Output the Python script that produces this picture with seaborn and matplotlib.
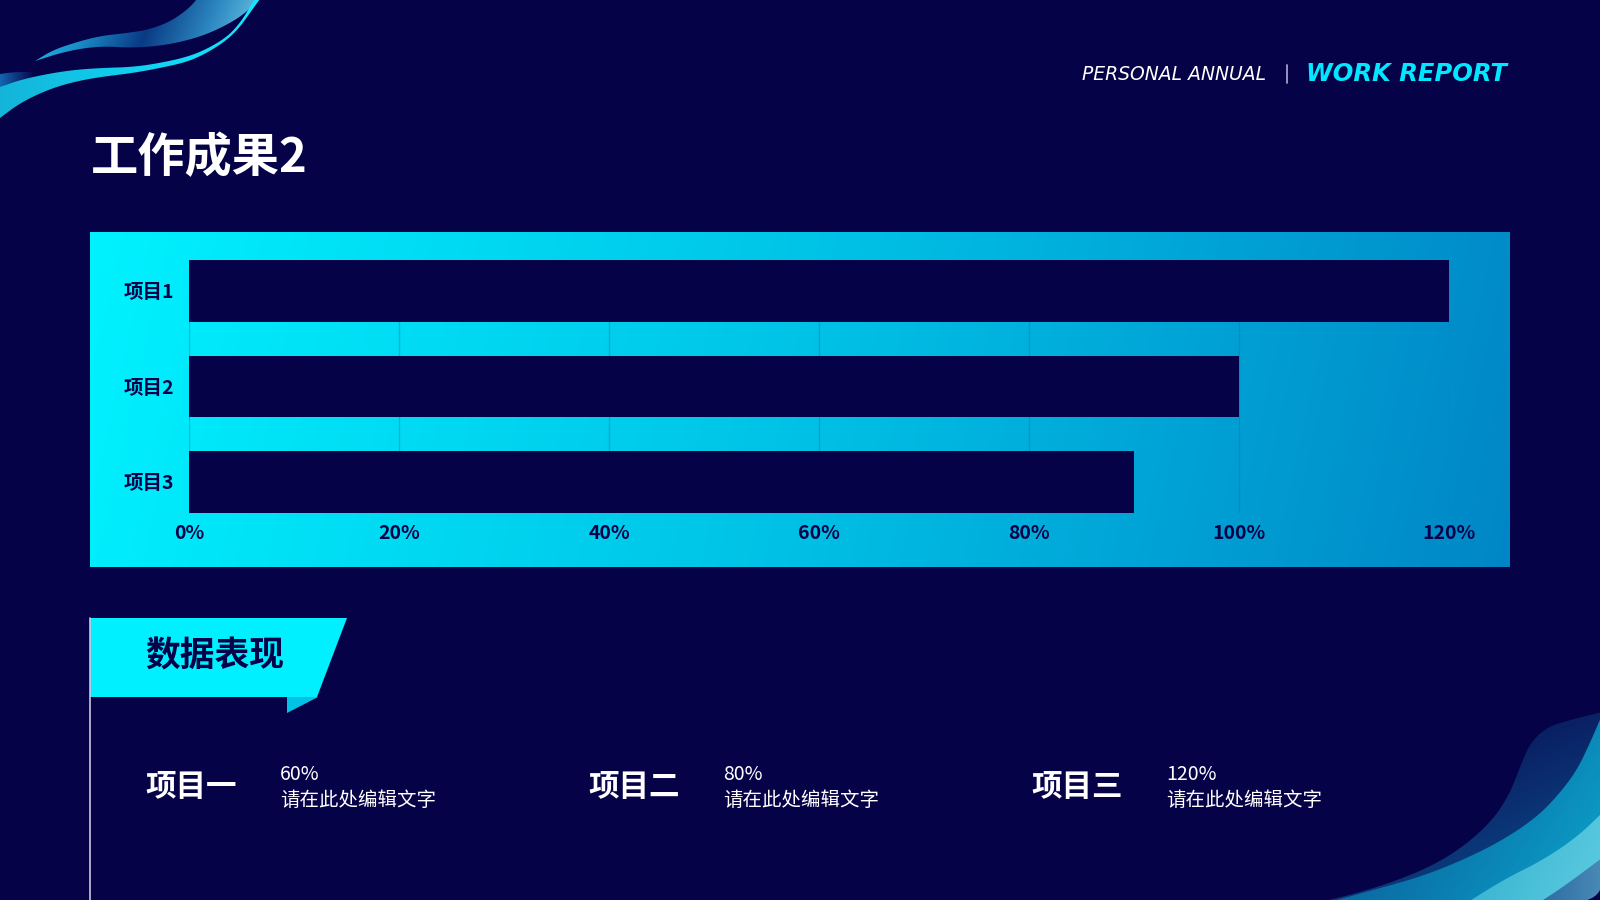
import numpy as np
import pandas as pd
import seaborn as sns
import matplotlib.pyplot as plt
from matplotlib.patches import Polygon
from matplotlib.colors import to_rgb

# Chart data
categories = ['项目1', '项目2', '项目3']
values = [1.2, 1.0, 0.9]
tick_values = [0, 0.2, 0.4, 0.6, 0.8, 1.0, 1.2]
tick_labels = ['0%', '20%', '40%', '60%', '80%', '100%', '120%']

# Summary items under the chart
item_names = ['项目一', '项目二', '项目三']
item_pcts = ['60%', '80%', '120%']
item_desc = ['请在此处编辑文字', '请在此处编辑文字', '请在此处编辑文字']

NAVY = '#060248'
CYAN = '#00F0FF'

sns.set_style('white')
plt.rcParams['font.family'] = ['Noto Sans CJK SC', 'DejaVu Sans']

W, H = 1600, 900
fig = plt.figure(figsize=(16, 9), dpi=100, facecolor=NAVY)

# background layer in pixel coordinates
bg = fig.add_axes([0, 0, 1, 1])
bg.set_facecolor(NAVY)
bg.axis('off')


def gradient(stops, nx=300, ny=150, tilt=0.0):
    # stops: list of colours spread evenly along the gradient
    xs = np.linspace(0, 1, nx)[None, :]
    ys = np.linspace(0, 1, ny)[:, None]
    t = np.clip((1 - tilt) * xs + tilt * ys, 0, 1)
    cols = np.array([to_rgb(c) for c in stops])
    pos = np.linspace(0, 1, len(stops))
    img = np.stack([np.interp(t, pos, cols[:, k]) for k in range(3)], axis=-1)
    return img


def smooth(pts, n=3):
    # chaikin corner cutting, endpoints kept
    pts = np.array(pts, dtype=float)
    for _ in range(n):
        q = 0.75 * pts[:-1] + 0.25 * pts[1:]
        r = 0.25 * pts[:-1] + 0.75 * pts[1:]
        mid = np.empty((2 * len(q), 2))
        mid[0::2] = q
        mid[1::2] = r
        pts = np.vstack([pts[:1], mid, pts[-1:]])
    return pts


def ribbon(edge_a, edge_b, stops, zorder=2, tilt=0.0):
    verts = np.vstack([smooth(edge_a), smooth(edge_b)[::-1]])
    x0, y0 = verts.min(axis=0)
    x1, y1 = verts.max(axis=0)
    patch = Polygon(verts, closed=True, fill=False, lw=0)
    bg.add_patch(patch)
    im = bg.imshow(gradient(stops, tilt=tilt), extent=(x0, x1, y1, y0),
                   aspect='auto', zorder=zorder, interpolation='bilinear')
    im.set_clip_path(patch)


# top-left swooshes
ribbon([(35, 61), (53, 50), (77, 42), (100, 36), (127, 33), (147, 30), (167, 23),
        (180, 15), (190, 7), (197, -1)],
       [(35, 61), (67, 51), (100, 46), (133, 48), (167, 45), (200, 37), (227, 25),
        (247, 12), (258, -1)],
       ['#22C4E8', '#1A8CC8', '#0A3A84', '#2C88C0', '#78D4EC'], tilt=0.1)
ribbon([(0, 74), (15, 72), (35, 72)], [(0, 88), (15, 84), (35, 77)],
       ['#1466B0', NAVY])
ribbon([(0, 87), (20, 80), (47, 74), (73, 70), (100, 68), (133, 67), (160, 63),
        (187, 57), (207, 49), (227, 37), (240, 23), (250, 7), (255, -1)],
       [(0, 118), (20, 103), (47, 90), (73, 82), (100, 77), (133, 73), (160, 68),
        (187, 62), (207, 53), (227, 40), (240, 27), (252, 10), (260, -1)],
       ['#14B4D8', '#10D0F0', '#14E8FF'])

# bottom-right swooshes
ribbon([(1602, 712), (1570, 720), (1547, 727), (1530, 743), (1520, 767), (1510, 793),
        (1493, 820), (1463, 847), (1430, 867), (1390, 883), (1350, 895), (1320, 902)],
       [(1602, 712), (1602, 902), (1320, 902)],
       [NAVY, '#0A2A6C', '#0B5494'], tilt=0.6)
ribbon([(1602, 715), (1590, 743), (1577, 770), (1560, 793), (1537, 817), (1503, 840),
        (1463, 860), (1420, 877), (1373, 890), (1330, 902)],
       [(1602, 715), (1602, 902), (1330, 902)],
       ['#0A5090', '#0A78AC', '#0CA4CC'], tilt=0.3)
ribbon([(1602, 813), (1577, 837), (1543, 860), (1503, 880), (1468, 902)],
       [(1602, 813), (1602, 902), (1468, 902)],
       ['#34B0D0', '#5CCCE0'], tilt=0.2)
ribbon([(1602, 858), (1563, 887), (1540, 902)],
       [(1602, 858), (1602, 902), (1540, 902)],
       ['#2C6CA0', '#4A8AB8'])

# chart panel with gradient
bg.imshow(gradient(['#00F2FF', '#00C2E6', '#0086C6'], tilt=0.05),
          extent=(90, 1510, 567, 232), aspect='auto', zorder=1,
          interpolation='bilinear')

# header
bg.text(91, 158, '工作成果2', color='white', fontsize=34, fontweight='bold',
        ha='left', va='center', zorder=5)
bg.text(1266, 74, 'PERSONAL ANNUAL', color='white', fontsize=13.5,
        family='DejaVu Sans', style='italic', ha='right', va='center', zorder=5)
bg.plot([1287, 1287], [65, 83], color='#A0A0C8', lw=1.3, zorder=5)
bg.text(1306, 74, 'WORK REPORT', color='#00E8FF', fontsize=17.5, family='DejaVu Sans',
        style='italic', fontweight='bold', ha='left', va='center', zorder=5)

# "数据表现" banner
bg.add_patch(Polygon([(90, 618), (347, 618), (317, 697), (90, 697)], closed=True,
                     facecolor=CYAN, lw=0, zorder=3))
bg.add_patch(Polygon([(287, 697), (318, 697), (287, 713)], closed=True,
                     facecolor='#00C2E4', lw=0, zorder=3))
bg.plot([90, 90], [618, 900], color='#C8C8E0', lw=1.2, zorder=4)
bg.text(145, 656, '数据表现', color=NAVY, fontsize=25, fontweight='bold',
        ha='left', va='center', zorder=5)

col_x = [145, 588, 1031]
for i in range(len(item_names)):
    x = col_x[i]
    bg.text(x, 787, item_names[i], color='white', fontsize=22, fontweight='bold',
            ha='left', va='center', zorder=5)
    bg.text(x + 135, 774, item_pcts[i], color='white', fontsize=14,
            ha='left', va='center', zorder=5)
    bg.text(x + 135, 801, item_desc[i], color='white', fontsize=14,
            ha='left', va='center', zorder=5)

bg.set_xlim(0, W)
bg.set_ylim(H, 0)

# bar chart axes
left, right, top, bottom = 189.3, 1449.3, 260, 512.7
ax = fig.add_axes([left / W, 1 - bottom / H, (right - left) / W, (bottom - top) / H])
ax.patch.set_alpha(0)
df = pd.DataFrame({'item': categories, 'value': values})
sns.barplot(data=df, x='value', y='item', orient='h', color=NAVY, saturation=1,
            width=0.646, linewidth=0, ax=ax, zorder=3)
ax.set_xlim(0, 1.2)
ax.set_ylim(len(categories) - 1 + 0.323, -0.323)
ax.set_xticks(tick_values)
ax.set_xticklabels(tick_labels)
ax.set_axisbelow(True)
ax.grid(axis='x', color='#0078B0', alpha=0.4, lw=1)
ax.grid(axis='y', visible=False)
for s in ax.spines.values():
    s.set_visible(False)
ax.tick_params(axis='both', length=0, colors=NAVY, labelsize=14)
ax.tick_params(axis='x', pad=8)
ax.tick_params(axis='y', pad=11)
for lab in ax.get_xticklabels() + ax.get_yticklabels():
    lab.set_fontweight('bold')
    lab.set_color(NAVY)
ax.set_xlabel('')
ax.set_ylabel('')

fig.savefig('out.png', dpi=100, facecolor=NAVY)
